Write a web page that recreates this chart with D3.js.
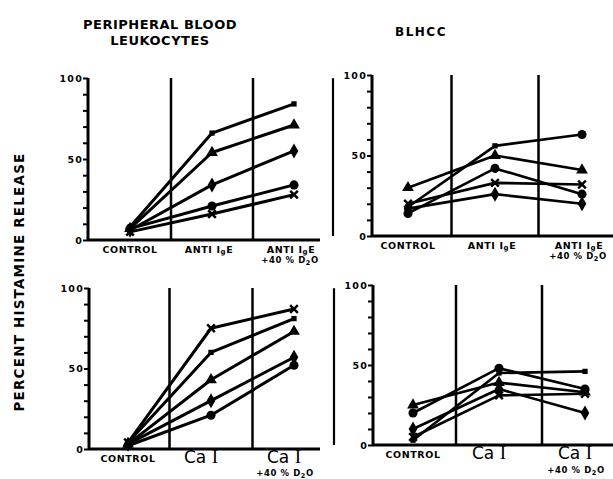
<!DOCTYPE html>
<html><head><meta charset="utf-8">
<script src="https://cdn.jsdelivr.net/npm/d3@7"></script>
<style>body{margin:0;background:#fff}svg{display:block}</style>
</head><body>
<svg id="c" width="613" height="479"></svg>
<script>
// ---------- data ----------
const markers = ["square", "triangle", "diamond", "circle", "cross"];
const conditions = ["control", "stimulus", "stimulus+D2O"];
const yTicks = [0, 10, 20, 30, 40, 50, 60, 70, 80, 90, 100];
const yTickLabels = [0, 50, 100];
// Peripheral blood leukocytes, anti-IgE (rows follow `markers`)
const pblAntiIgE = [[8, 66, 84], [7, 54, 71], [6, 34, 55], [7, 21, 34], [5, 16, 28]];
// BLHCC, anti-IgE
const blhccAntiIgE = [[18, 56, 63], [30, 50, 41], [17, 26, 20], [14, 42, 26], [20, 33, 32]];
// Peripheral blood leukocytes, Ca ionophore
const pblCaI = [[4, 60, 81], [3, 43, 73], [3, 30, 57], [2, 21, 52], [4, 75, 87]];
// BLHCC, Ca ionophore
const blhccCaI = [[3, 45, 46], [25, 39, 33], [10, 35, 20], [20, 48, 35], [5, 31, 32]];
const markerOfD2OEnd = { blhccTop: "circle" };

const svg = d3.select("#c");
const bold = "'DejaVu Sans', sans-serif";

// ---------- titles ----------
svg.append("text").attr("x", 160).attr("y", 29).attr("text-anchor", "middle")
  .attr("font-family", bold).attr("font-weight", "bold").attr("font-size", 13).attr("letter-spacing", 0.5)
  .text("PERIPHERAL  BLOOD");
svg.append("text").attr("x", 160).attr("y", 45).attr("text-anchor", "middle")
  .attr("font-family", bold).attr("font-weight", "bold").attr("font-size", 13).attr("letter-spacing", 0.5)
  .text("LEUKOCYTES");
svg.append("text").attr("x", 421).attr("y", 36).attr("text-anchor", "middle")
  .attr("font-family", bold).attr("font-weight", "bold").attr("font-size", 12).attr("letter-spacing", 1.5)
  .text("BLHCC");
svg.append("text").attr("transform", "translate(24,282) rotate(-90)").attr("text-anchor", "middle")
  .attr("font-family", bold).attr("font-weight", "bold").attr("font-size", 13.5).attr("letter-spacing", 1.2)
  .text("PERCENT  HISTAMINE  RELEASE");

// ---------- panels ----------
const panels = [
  { data: pblAntiIgE, ax: 88, axEnd: 320, xr: [130, 294], yr: [240, 78], kind: "ige", lw: 3, edge: null },
  { data: blhccAntiIgE, ax: 372, axEnd: 613, xr: [408, 582], yr: [236, 75], kind: "ige", lw: 2.6, edge: 333, blh: true },
  { data: pblCaI, ax: 89, axEnd: 320, xr: [128, 294], yr: [449, 288], kind: "ca", lw: 3, edge: null },
  { data: blhccCaI, ax: 373, axEnd: 613, xr: [413, 585], yr: [445, 285], kind: "ca", lw: 2.6, edge: 334 }
];

function symbolFor(m) {
  if (m === "square") return d3.symbol(d3.symbolSquare, 28);
  if (m === "triangle") return d3.symbol(d3.symbolTriangle, 60);
  if (m === "diamond") return d3.symbol(d3.symbolDiamond, 65);
  if (m === "circle") return d3.symbol(d3.symbolCircle, 65);
  return d3.symbol(d3.symbolX, 40);
}

panels.forEach(p => {
  const g = svg.append("g");
  const x = d3.scaleLinear().domain([0, 2]).range(p.xr);
  const y = d3.scaleLinear().domain([0, 100]).range(p.yr);

  // scan edge artifact
  if (p.edge) g.append("line").attr("x1", p.edge).attr("x2", p.edge)
    .attr("y1", y(98)).attr("y2", y(0)).attr("stroke", "#000").attr("stroke-width", 2.2);

  // y axis
  const yAxis = d3.axisLeft(y).tickValues(yTicks).tickSize(5)
    .tickFormat(d => yTickLabels.includes(d) ? d : "");
  const ya = g.append("g").attr("transform", `translate(${p.ax},0)`).call(yAxis);
  ya.select(".domain").attr("stroke-width", 3).attr("d", `M0,${y(100)}V${y(0)}`);
  ya.selectAll(".tick line").attr("stroke-width", 2);
  ya.selectAll(".tick text").attr("font-family", bold).attr("font-weight", "bold")
    .attr("font-size", 9.5).attr("x", -5).attr("letter-spacing", 1.2);

  // x baseline
  g.append("line").attr("x1", p.ax).attr("x2", p.axEnd).attr("y1", y(0)).attr("y2", y(0))
    .attr("stroke", "#000").attr("stroke-width", 3);

  // dividers
  [0.5, 1.5].forEach(v => g.append("line").attr("x1", x(v)).attr("x2", x(v))
    .attr("y1", y(100)).attr("y2", y(0)).attr("stroke", "#000").attr("stroke-width", 2.5));

  // series
  const line = d3.line().x((d, i) => x(i)).y(d => y(d));
  p.data.forEach((vals, si) => {
    g.append("path").attr("d", line(vals)).attr("fill", "none")
      .attr("stroke", "#000").attr("stroke-width", p.lw).attr("stroke-linejoin", "round");
    vals.forEach((v, i) => {
      let m = markers[si];
      if (p.blh && si === 0 && i === 2) m = markerOfD2OEnd.blhccTop;
      g.append("path").attr("d", symbolFor(m)()).attr("transform", `translate(${x(i)},${y(v)})`)
        .attr("fill", "#000").attr("stroke", "#000").attr("stroke-width", m === "cross" ? 2.5 : 0);
    });
  });

  // x labels
  const ly = y(0) + 13;
  g.append("text").attr("x", x(0)).attr("y", ly).attr("text-anchor", "middle")
    .attr("font-family", bold).attr("font-weight", "bold").attr("font-size", 9.5)
    .attr("letter-spacing", 0.6).text("CONTROL");
  if (p.kind === "ige") {
    [1, 2].forEach(i => {
      const t = g.append("text").attr("x", x(i) - 3).attr("y", ly).attr("text-anchor", "middle")
        .attr("font-family", bold).attr("font-weight", "bold").attr("font-size", 9.5).attr("letter-spacing", 0.6);
      t.append("tspan").text("ANTI  I");
      t.append("tspan").attr("font-size", 7).attr("dy", 1).text("g");
      t.append("tspan").attr("dy", -1).text("E");
    });
  } else {
    [1, 2].forEach(i => {
      const t = g.append("text").attr("x", x(i) - 10).attr("y", ly + 1).attr("text-anchor", "middle")
        .attr("font-family", "'DejaVu Sans', sans-serif").attr("font-size", 17);
      t.append("tspan").text("Ca  ");
      t.append("tspan").attr("font-family", "'Liberation Serif', serif").attr("font-size", 19).text("I");
    });
  }
  const t2 = g.append("text").attr("x", x(2) - 4 + (p.kind === "ca" ? -5 : 0))
    .attr("y", Math.min(ly + (p.kind === "ca" ? 15 : 10), 476))
    .attr("text-anchor", "middle")
    .attr("font-family", bold).attr("font-weight", "bold").attr("font-size", 8.5).attr("letter-spacing", 0.6);
  t2.append("tspan").text("+40 % D");
  t2.append("tspan").attr("font-size", 6.5).attr("dy", 1.5).text("2");
  t2.append("tspan").attr("dy", -1.5).text("O");
});
</script>
</body></html>
